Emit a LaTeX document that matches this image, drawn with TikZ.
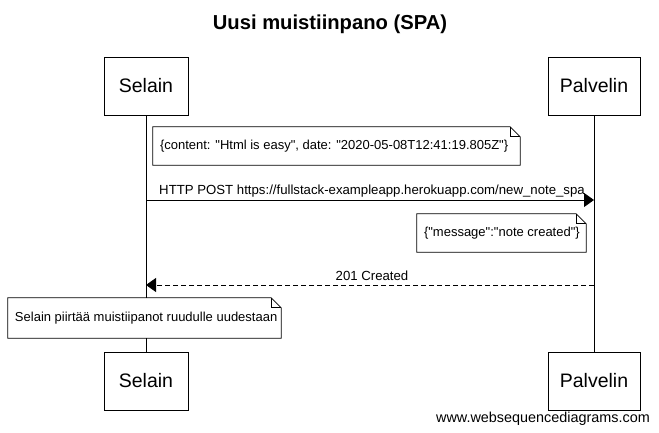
\documentclass[tikz,border=0pt]{standalone}
\usepackage{fontspec}
\setmainfont{Liberation Sans}[Ligatures=TeXOff]
\usetikzlibrary{arrows.meta}
\tikzset{
  actor/.style={draw=black, line width=0.8pt, fill=white, minimum width=84pt, minimum height=58pt, font=\fontsize{19.5}{22}\selectfont, inner sep=0pt},
  notebox/.style={fill=white, minimum height=38pt, inner xsep=7pt, inner ysep=0pt, font=\fontsize{13}{15}\selectfont},
  lifeline/.style={draw=black, line width=0.8pt},
  msg/.style={draw=black, line width=0.8pt, -{Triangle[length=10pt,width=14pt]}},
  reply/.style={msg, dash pattern=on 5pt off 3pt},
  msglabel/.style={font=\fontsize{13.2}{15}\selectfont, inner sep=0pt, anchor=base},
  fold/.style={draw=black, line width=0.7pt}
}
\newcommand{\notefold}[1]{%
  \draw[fold] (#1.south west) -- (#1.north west) -- ([xshift=-10pt]#1.north east) -- ([yshift=-10pt]#1.north east) -- (#1.south east) -- cycle;
  \draw[fold] ([xshift=-10pt]#1.north east) |- ([yshift=-10pt]#1.north east);
}
\begin{document}
\begin{tikzpicture}[x=1pt,y=-1pt]
\useasboundingbox[fill=white] (0,0) rectangle (659,433);
\node[font=\bfseries\fontsize{20.2}{23}\selectfont] (title) at (330,24) {Uusi muistiinpano (SPA)};
\node[actor] (s1) at (146,86) {Selain};
\node[actor, minimum width=92pt] (p1) at (594,86) {Palvelin};
\node[actor] (s2) at (146,381) {Selain};
\node[actor, minimum width=92pt] (p2) at (594,381) {Palvelin};
\draw[lifeline] (s1.south) -- (s2.north);
\draw[lifeline] (p1.south) -- (p2.north);
% note 1
\node[notebox] (n1) at (336.5,146) {\makebox[353pt][l]{\{content: "Html is easy", date: "2020-05-08T12:41:19.805Z"\}}};
\notefold{n1}
% message 1
\coordinate (m1a) at (s1.south |- 0,200);
\coordinate (m1b) at (p1.south |- 0,200);
\draw[msg] (m1a) -- (m1b);
\node[msglabel] (l1) at (372,195) {HTTP POST https://fullstack-exampleapp.herokuapp.com/new\_note\_spa};
% note 2
\node[notebox] (n2) at (501.5,233) {\makebox[155pt][l]{\{"message":"note created"\}}};
\notefold{n2}
% message 2
\coordinate (m2a) at (p1.south |- 0,285);
\coordinate (m2b) at (s1.south |- 0,285);
\draw[reply] (m2a) -- (m2b);
\node[msglabel] (l2) at (372,280) {201 Created};
% note 3
\node[notebox, minimum height=40pt] (n3) at (144.5,318) {\makebox[259pt][l]{Selain piirtää muistiipanot ruudulle uudestaan}};
\notefold{n3}
\node[font=\fontsize{14.4}{16}\selectfont, anchor=base east, inner sep=0pt] (wm) at (650,422) {www.websequencediagrams.com};
\end{tikzpicture}
\end{document}
